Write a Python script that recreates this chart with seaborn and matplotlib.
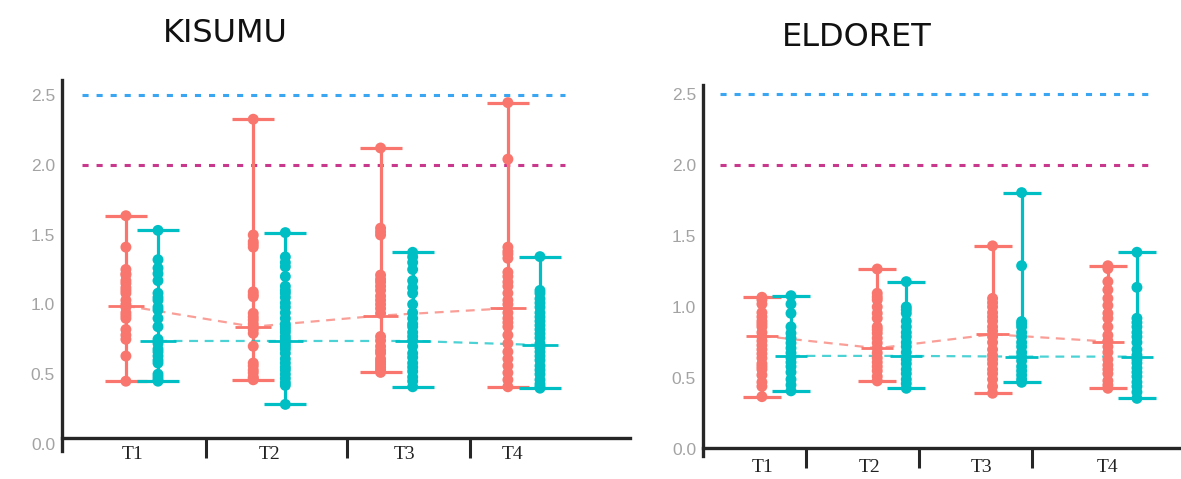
import numpy as np
import pandas as pd
import matplotlib
matplotlib.use("Agg")
import matplotlib.pyplot as plt
import seaborn as sns

# ---- data -----------------------------------------------------------------
sites = ["KISUMU", "ELDORET"]
times = ["T1", "T2", "T3", "T4"]
groups = ["A", "B"]

# individual observations per time point
kisumu_a = [
    [1.635, 1.41, 1.25, 1.22, 1.21, 1.17, 1.15, 1.12, 1.10, 1.08, 1.03, 1.00, 0.98, 0.94,
     0.92, 0.90, 0.82, 0.78, 0.75, 0.63, 0.45],
    [2.326, 1.497, 1.449, 1.43, 1.41, 1.09, 1.07, 1.055, 0.936, 0.91, 0.888, 0.86, 0.84,
     0.82, 0.793, 0.70, 0.58, 0.56, 0.53, 0.51, 0.48, 0.47, 0.46],
    [2.12, 1.546, 1.52, 1.497, 1.21, 1.18, 1.16, 1.13, 1.10, 1.06, 1.03, 1.00, 0.97, 0.936,
     0.77, 0.74, 0.70, 0.67, 0.65, 0.61, 0.59, 0.57, 0.55, 0.53, 0.513],
    [2.445, 2.04, 1.41, 1.38, 1.36, 1.33, 1.23, 1.20, 1.16, 1.13, 1.08, 1.03, 1.00, 0.94,
     0.90, 0.87, 0.84, 0.78, 0.72, 0.66, 0.61, 0.56, 0.51, 0.46, 0.41],
]
kisumu_b = [
    [1.53, 1.32, 1.26, 1.22, 1.17, 1.08, 1.05, 1.03, 0.98, 0.96, 0.90, 0.84, 0.75, 0.72,
     0.68, 0.66, 0.63, 0.60, 0.58, 0.50, 0.48, 0.46, 0.45],
    [1.514, 1.34, 1.30, 1.27, 1.20, 1.13, 1.10, 1.08, 1.05, 1.01, 0.98, 0.94, 0.90, 0.86,
     0.84, 0.82, 0.80, 0.77, 0.75, 0.72, 0.70, 0.68, 0.65, 0.61, 0.58, 0.55, 0.53, 0.50,
     0.47, 0.44, 0.42, 0.284],
    [1.373, 1.34, 1.30, 1.25, 1.17, 1.12, 1.08, 1.00, 0.94, 0.90, 0.86, 0.84, 0.80, 0.77,
     0.74, 0.70, 0.65, 0.62, 0.58, 0.55, 0.52, 0.48, 0.45, 0.41],
    [1.342, 1.10, 1.08, 1.04, 1.01, 0.98, 0.94, 0.91, 0.88, 0.85, 0.82, 0.79, 0.76, 0.72,
     0.69, 0.66, 0.63, 0.60, 0.56, 0.53, 0.50, 0.46, 0.43, 0.41, 0.40],
]
eldoret_a = [
    [1.068, 1.05, 1.02, 0.96, 0.93, 0.90, 0.88, 0.86, 0.82, 0.79, 0.76, 0.73, 0.70, 0.67,
     0.64, 0.60, 0.58, 0.56, 0.52, 0.47, 0.44, 0.368],
    [1.267, 1.096, 1.07, 1.05, 1.00, 0.955, 0.92, 0.86, 0.84, 0.815, 0.78, 0.746, 0.71,
     0.676, 0.64, 0.61, 0.58, 0.55, 0.51, 0.479],
    [1.43, 1.06, 1.03, 1.00, 0.96, 0.93, 0.90, 0.86, 0.83, 0.79, 0.75, 0.70, 0.66, 0.63,
     0.60, 0.56, 0.53, 0.49, 0.44, 0.392],
    [1.29, 1.27, 1.178, 1.12, 1.06, 1.01, 0.955, 0.92, 0.86, 0.80, 0.76, 0.72, 0.68, 0.63,
     0.59, 0.56, 0.53, 0.48, 0.45, 0.427],
]
eldoret_b = [
    [1.079, 1.02, 0.955, 0.86, 0.815, 0.78, 0.746, 0.71, 0.676, 0.64, 0.61, 0.58, 0.54,
     0.49, 0.45, 0.409],
    [1.178, 1.00, 0.98, 0.955, 0.90, 0.86, 0.82, 0.79, 0.75, 0.72, 0.68, 0.63, 0.60, 0.56,
     0.53, 0.49, 0.46, 0.427],
    [1.805, 1.29, 0.897, 0.88, 0.86, 0.82, 0.79, 0.75, 0.72, 0.68, 0.65, 0.62, 0.58, 0.55,
     0.52, 0.49, 0.469],
    [1.385, 1.138, 0.92, 0.89, 0.86, 0.82, 0.79, 0.75, 0.70, 0.66, 0.63, 0.605, 0.57, 0.54,
     0.51, 0.47, 0.44, 0.40, 0.356],
]

# central values shown as short ticks and joined by dashed lines
kisumu_a_mean = [0.99, 0.84, 0.92, 0.972]
kisumu_b_mean = [0.738, 0.738, 0.738, 0.709]
eldoret_a_mean = [0.796, 0.709, 0.807, 0.756]
eldoret_b_mean = [0.655, 0.655, 0.65, 0.65]

reference_levels = [2.5, 2.0]
y_ticks = [0.0, 0.5, 1.0, 1.5, 2.0, 2.5]

# ---- assemble long tables -------------------------------------------------
obs = {("KISUMU", "A"): kisumu_a, ("KISUMU", "B"): kisumu_b,
       ("ELDORET", "A"): eldoret_a, ("ELDORET", "B"): eldoret_b}
means = {("KISUMU", "A"): kisumu_a_mean, ("KISUMU", "B"): kisumu_b_mean,
         ("ELDORET", "A"): eldoret_a_mean, ("ELDORET", "B"): eldoret_b_mean}

offset = {"A": -0.126, "B": 0.126}
palette = {"A": "#F8766D", "B": "#00BFC4"}

rows, mrows = [], []
for (site, grp), per_time in obs.items():
    for ti, vals in enumerate(per_time):
        for v in vals:
            rows.append(dict(site=site, group=grp, time=times[ti],
                             x=ti + offset[grp], value=v))
        mrows.append(dict(site=site, group=grp, time=times[ti],
                          x=ti + offset[grp], value=means[(site, grp)][ti],
                          low=min(vals), high=max(vals)))
df = pd.DataFrame(rows)
summary = pd.DataFrame(mrows)

# ---- layout ---------------------------------------------------------------
sns.set_theme(style="white")
plt.rcParams["axes.facecolor"] = "white"

W, H = 1181, 479
fig = plt.figure(figsize=(W / 100, H / 100), dpi=100)

panel = {
    "KISUMU": dict(rect=[62 / W, 28 / H, 568 / W, 371 / H],
                   xlim=(-0.628, 3.833), ylim=(-0.05, 2.607), spine_y=0.043,
                   label_x=[-0.07, 1.0, 2.06, 2.91], sep_x=[0.50, 1.61, 2.58],
                   ref_x=(-0.47, 3.32), title_xy=(225, 34), label_pad=6.0),
    "ELDORET": dict(rect=[703 / W, 23 / H, 478 / W, 371 / H],
                    xlim=(-0.637, 3.508), ylim=(-0.05, 2.563), spine_y=0.007,
                    label_x=[-0.12, 0.81, 1.78, 2.87], sep_x=[0.26, 1.24, 2.22],
                    ref_x=(-0.49, 3.24), title_xy=(857, 37), label_pad=8.0),
}
ref_colors = ["#3AA6F2", "#C8388C"]
axis_color = "#262626"

for site in sites:
    p = panel[site]
    ax = fig.add_axes(p["rect"])
    d = df[df.site == site]
    s = summary[summary.site == site]

    # reference thresholds
    for lvl, col in zip(reference_levels, ref_colors):
        ax.hlines(lvl, *p["ref_x"], colors=col, linewidth=2.2,
                  linestyles=(0, (2.0, 2.6)), zorder=1)

    # range bars with caps and central ticks
    for _, r in s.iterrows():
        col = palette[r.group]
        ax.vlines(r.x, r.low, r.high, colors=col, linewidth=2.3, zorder=2)
        ax.hlines([r.low, r.high], r.x - 0.165, r.x + 0.165, colors=col,
                  linewidth=2.3, zorder=2)
        ax.hlines(r.value, r.x - 0.14, r.x + 0.14, colors=col,
                  linewidth=2.0, zorder=2)

    # dashed trend between central values
    sns.lineplot(data=s, x="x", y="value", hue="group", palette=palette,
                 hue_order=groups, ax=ax, legend=False, linewidth=1.6,
                 alpha=0.7, dashes=False, zorder=3, sort=True)
    for ln in ax.get_lines():
        ln.set_linestyle((0, (4, 3)))

    # individual observations
    sns.scatterplot(data=d, x="x", y="value", hue="group", palette=palette,
                    hue_order=groups, ax=ax, legend=False, s=62,
                    edgecolor="none", zorder=4)

    ax.set_xlim(*p["xlim"])
    ax.set_ylim(*p["ylim"])
    ax.set_xlabel("")
    ax.set_ylabel("")

    # axes frame
    for side in ("top", "right"):
        ax.spines[side].set_visible(False)
    ax.spines["bottom"].set_position(("data", p["spine_y"]))
    for side in ("left", "bottom"):
        ax.spines[side].set_color(axis_color)
        ax.spines[side].set_linewidth(2.4)

    ax.set_yticks(y_ticks)
    ax.set_yticklabels([f"{t:.1f}" for t in y_ticks],
                       fontfamily="Liberation Sans", fontsize=12.5,
                       color="#A3A3A3")
    ax.tick_params(axis="y", length=0, pad=5)

    ax.set_xticks(p["label_x"])
    ax.set_xticklabels(times, fontfamily="Liberation Serif", fontsize=14,
                       color="#222222")
    ax.set_xticks(p["sep_x"], minor=True)
    ax.tick_params(axis="x", which="major", length=0, pad=p["label_pad"])
    ax.tick_params(axis="x", which="minor", length=14.5, width=2.2,
                   color=axis_color, direction="out", bottom=True)

    tx, ty = p["title_xy"]
    fig.text(tx / W, 1 - ty / H, site, ha="center", va="center",
             fontsize=23, fontfamily="DejaVu Sans", color="#111111")

fig.savefig("out.png", dpi=100, facecolor="white")
